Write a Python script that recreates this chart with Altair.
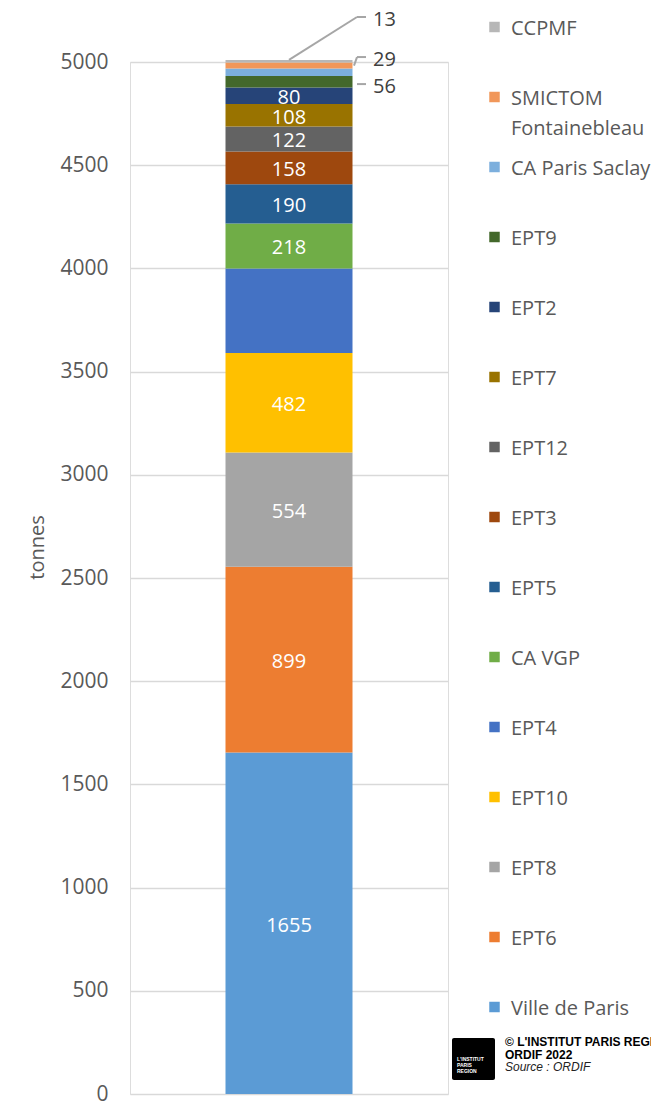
import altair as alt
import pandas as pd

categories = ["Ville de Paris", "EPT6", "EPT8", "EPT10", "EPT4", "CA VGP", "EPT5",
              "EPT3", "EPT12", "EPT7", "EPT2", "EPT9", "CA Paris Saclay",
              "SMICTOM\nFontainebleau", "CCPMF"]
values = [1655, 899, 554, 482, 410, 218, 190, 158, 122, 108, 80, 56, 36, 29, 13]
colors = ["#5B9BD5", "#ED7D31", "#A5A5A5", "#FFC000", "#4472C4", "#70AD47", "#255E91",
          "#9E480E", "#636363", "#997300", "#264478", "#43682B", "#7CAFDD",
          "#F1975A", "#B7B7B7"]
label_style = ["in", "in", "in", "in", "none", "in", "in", "in", "in", "in", "in",
               "out", "none", "out", "out"]
y_ticks = [0, 500, 1000, 1500, 2000, 2500, 3000, 3500, 4000, 4500, 5000]
credit_lines = ["© L'INSTITUT PARIS REGION", "ORDIF 2022", "Source : ORDIF"]

FONT = "Open Sans"
GREY = "#595959"

# stacked positions
rows = []
cum = 0
for i, (c, v, s) in enumerate(zip(categories, values, label_style)):
    rows.append({"grp": "", "cat": c, "value": v, "y0": cum, "y1": cum + v,
                 "mid": cum + v / 2, "style": s, "idx": i})
    cum += v
df = pd.DataFrame(rows)

# outside-label annotation positions (value units)
out_pos = {"CCPMF": 5218, "SMICTOM\nFontainebleau": 5024, "EPT9": 4893}
df["lab_y"] = df["cat"].map(out_pos)

color_scale = alt.Scale(domain=categories, range=colors)
x_enc = alt.X("grp:N", axis=None)
y_scale = alt.Scale(domain=[0, 5000], nice=False, zero=True, range=[1032, 0])

base = alt.Chart(df)

bars = base.mark_bar(size=127).encode(
    x=x_enc,
    y=alt.Y("y0:Q", scale=y_scale,
            axis=alt.Axis(values=y_ticks, format="d", title="tonnes", domain=False,
                          ticks=False, labelFont=FONT, labelFontSize=21,
                          labelColor=GREY, labelPadding=22, grid=True,
                          gridColor="#D9D9D9", gridWidth=1.5, titleFont=FONT,
                          titleFontSize=20, titleColor=GREY, titleFontWeight="normal",
                          titlePadding=12, titleY=485)),
    y2="y1:Q",
    color=alt.Color("cat:N", scale=color_scale, legend=None),
)

inside = base.transform_filter(alt.datum.style == "in").mark_text(
    color="white", font=FONT, fontSize=20, baseline="middle", dy=2.5
).encode(x=x_enc, y=alt.Y("mid:Q", scale=y_scale), text="value:Q")

outside = base.transform_filter(alt.datum.style == "out").mark_text(
    color="#404040", font=FONT, fontSize=20, align="left", baseline="middle",
    dx=84, dy=2.5
).encode(x=x_enc, y=alt.Y("lab_y:Q", scale=y_scale), text="value:Q")

# leader lines
top_seg = df[df["cat"] == "CCPMF"]
smi_seg = df[df["cat"] == "SMICTOM\nFontainebleau"]
lead_df = df[df["style"] == "out"]

LEAD = dict(color="#A6A6A6", strokeWidth=2)
lead_h = alt.Chart(lead_df).mark_rule(**LEAD).encode(
    x=alt.value(227), x2=alt.value(236),
    y=alt.Y("lab_y:Q", scale=y_scale))
lead_13 = alt.Chart(top_seg).mark_rule(**LEAD).encode(
    x=alt.value(159), x2=alt.value(227),
    y=alt.Y("y1:Q", scale=y_scale), y2="lab_y:Q")
lead_29 = alt.Chart(smi_seg).mark_rule(**LEAD).encode(
    x=alt.value(224), x2=alt.value(227),
    y=alt.Y("mid:Q", scale=y_scale), y2="lab_y:Q")

# custom legend (top to bottom: reverse stacking order)
leg_order = categories[::-1]
leg_y = alt.Y("cat:N", scale=alt.Scale(type="point", domain=leg_order,
                                        range=[-35, 945], padding=0), axis=None)
leg_sq = base.mark_square(size=110, opacity=1).encode(
    x=alt.value(364.5), y=leg_y,
    color=alt.Color("cat:N", scale=color_scale, legend=None))
leg_tx = base.mark_text(align="left", baseline="top", dy=-8.5, font=FONT, fontSize=20,
                        color=GREY, lineBreak="\n", lineHeight=30).encode(
    x=alt.value(381), y=leg_y, text="cat:N")

# credit block
logo_df = pd.DataFrame({"k": ["logo"]})
logo = alt.Chart(logo_df).mark_rect(color="black", cornerRadius=2).encode(
    x=alt.value(322), x2=alt.value(365), y=alt.value(976), y2=alt.value(1018))
logo_txt = alt.Chart(logo_df).mark_text(
    color="white", font="Liberation Sans", fontSize=5, fontWeight="bold",
    align="left", baseline="middle", lineBreak="|", lineHeight=6).encode(
    x=alt.value(327), y=alt.value(997), text=alt.value("L'INSTITUT|PARIS|REGION"))

credit_df = pd.DataFrame({"t": credit_lines, "i": [0, 1, 2]})
credit_y = alt.Y("i:O", scale=alt.Scale(type="point", domain=[0, 1, 2],
                                        range=[980, 1005], padding=0), axis=None)
credit_bold = alt.Chart(credit_df).transform_filter(alt.datum.i < 2).mark_text(
    font="Liberation Sans", fontSize=12, fontWeight="bold", color="black",
    align="left", baseline="middle").encode(x=alt.value(375), y=credit_y, text="t:N")
credit_it = alt.Chart(credit_df).transform_filter(alt.datum.i == 2).mark_text(
    font="Liberation Sans", fontSize=12, fontStyle="italic", color="#222222",
    align="left", baseline="middle").encode(x=alt.value(375), y=credit_y, text="t:N")

main = alt.layer(bars, inside, outside, lead_h, lead_13, lead_29)
legend = alt.layer(leg_sq, leg_tx)
credits = alt.layer(logo, logo_txt, credit_bold, credit_it)

chart = alt.layer(main, legend, credits).resolve_scale(y="independent").properties(
    width=318, height=1032,
    autosize=alt.AutoSizeParams(type="none"),
    padding={"left": 122, "top": 54, "right": 203, "bottom": 7},
).configure_view(stroke=None).configure(background="white")

chart.save("out.html", embed_options={"renderer": "svg", "actions": False})
